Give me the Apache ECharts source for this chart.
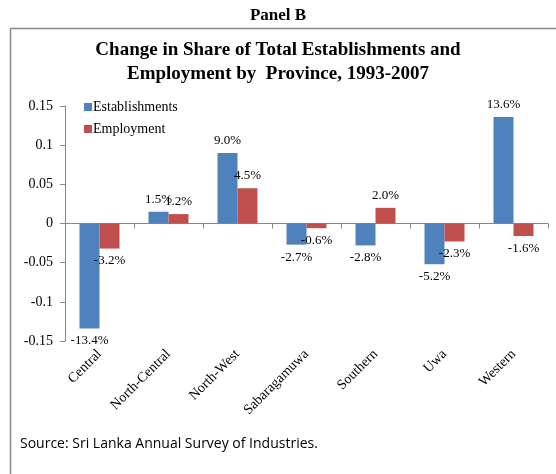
<!DOCTYPE html>
<html><head><meta charset="utf-8">
<script src="https://cdn.jsdelivr.net/npm/echarts@6/dist/echarts.min.js"></script>
<style>html,body{margin:0;padding:0;background:#fff}#c{width:556px;height:474px}</style>
</head><body><div id="c"></div>
<script>
var categories = ['Central','North-Central','North-West','Sabaragamuwa','Southern','Uwa','Western'];
var establishments = [-0.134, 0.015, 0.090, -0.027, -0.028, -0.052, 0.136];
var employment = [-0.032, 0.012, 0.045, -0.006, 0.020, -0.023, -0.016];
var yTicks = [-0.15, -0.1, -0.05, 0, 0.05, 0.1, 0.15];

var serif = '"Liberation Serif","Times New Roman",serif';
function pct(p){ return (p.value*100).toFixed(1) + '%'; }
function mk(vals){
  return vals.map(function(v){
    return {value: v, label: {position: v >= 0 ? 'top' : 'bottom'}};
  });
}
var chart = echarts.init(document.getElementById('c'), null, {renderer:'canvas'});
chart.setOption({
  animation: false,
  backgroundColor: '#fff',
  title: [
    {text: 'Panel B', left: 'center', top: 2, textStyle: {fontFamily: serif, fontWeight: 'bold', fontSize: 17, color: '#000'}},
    {text: 'Change in Share of Total Establishments and\nEmployment by  Province, 1993-2007', left: 'center', top: 33,
     textStyle: {fontFamily: serif, fontWeight: 'bold', fontSize: 19, lineHeight: 24, color: '#000'}},
    {text: 'Source: Sri Lanka Annual Survey of Industries.', left: 20, top: 437, padding: 0,
     textStyle: {fontFamily: '"Open Sans","Liberation Sans",sans-serif', fontWeight: 'normal', fontSize: 14, color: '#000'}}
  ],
  graphic: [
    {type: 'line', shape: {x1: 10.5, y1: 28.5, x2: 556, y2: 28.5}, style: {stroke: '#888', lineWidth: 1.5}},
    {type: 'line', shape: {x1: 10.5, y1: 28.5, x2: 10.5, y2: 474}, style: {stroke: '#888', lineWidth: 1.5}}
  ],
  legend: {
    orient: 'vertical', left: 79, top: 95, itemGap: 8,
    itemWidth: 8, itemHeight: 8, icon: 'rect',
    textStyle: {fontFamily: serif, fontSize: 14, color: '#000', padding: [0,0,0,-4]},
    data: ['Establishments','Employment']
  },
  grid: {left: 65, right: 8, top: 106, bottom: 133, containLabel: false, outerBoundsMode: 'none'},
  xAxis: {
    type: 'category', data: categories,
    axisLine: {onZero: true, lineStyle: {color: '#888'}},
    axisTick: {show: true, alignWithLabel: false, length: 5, inside: false, lineStyle: {color: '#888'}},
    axisLabel: {rotate: 45, interval: 0, fontFamily: serif, fontSize: 14, color: '#000', margin: 11,
      formatter: function(v){return v;}},
    splitLine: {show: false}
  },
  yAxis: {
    type: 'value', min: -0.15, max: 0.15, interval: 0.05,
    axisLine: {show: true, lineStyle: {color: '#888'}},
    axisTick: {show: true, length: 5, lineStyle: {color: '#888'}},
    axisLabel: {fontFamily: serif, fontSize: 14, color: '#000', margin: 12,
      formatter: function(v){ var r = Math.round(v*100)/100; return String(r); }},
    splitLine: {show: false}
  },
  series: [
    {name: 'Establishments', type: 'bar', data: mk(establishments), barWidth: 20, barGap: '0%',
     itemStyle: {color: '#4F81BD'},
     label: {show: true, formatter: pct, fontFamily: serif, fontSize: 13, color: '#000', distance: 6}},
    {name: 'Employment', type: 'bar', data: mk(employment), barWidth: 20,
     itemStyle: {color: '#C0504D'},
     label: {show: true, formatter: pct, fontFamily: serif, fontSize: 13, color: '#000', distance: 6}}
  ]
});
</script></body></html>
